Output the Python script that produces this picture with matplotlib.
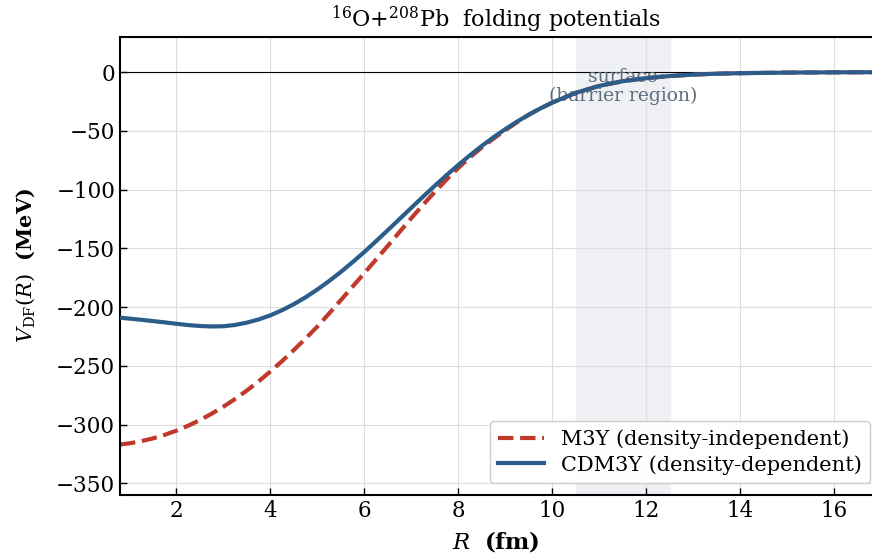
import numpy as np
import matplotlib
matplotlib.use("Agg")
import matplotlib.pyplot as plt

plt.rcParams['font.family'] = 'DejaVu Serif'
plt.rcParams['mathtext.fontset'] = 'dejavuserif'

# radius grid (fm)
R = [0.8, 1.0, 1.25, 1.5, 1.75, 2.0, 2.25, 2.5, 2.75, 3.0, 3.25, 3.5, 3.75,
     4.0, 4.25, 4.5, 4.75, 5.0, 5.25, 5.5, 5.75, 6.0, 6.25, 6.5, 6.75, 7.0,
     7.25, 7.5, 7.75, 8.0, 8.25, 8.5, 8.75, 9.0, 9.25, 9.5, 9.75, 10.0, 10.5,
     11.0, 11.5, 12.0, 12.5, 13.0, 13.5, 14.0, 15.0, 16.0, 16.8]
# CDM3Y (density-dependent), MeV
V_cdm3y = [-209.0, -209.8, -210.8, -211.9, -213.0, -214.2, -215.3, -216.1,
           -216.5, -216.3, -215.2, -213.2, -210.5, -207.0, -202.6, -197.5,
           -191.6, -185.0, -177.8, -170.0, -161.7, -153.0, -143.8, -134.4,
           -124.9, -115.4, -105.9, -96.6, -87.6, -78.9, -70.6, -62.7, -55.3,
           -48.4, -42.0, -36.1, -30.7, -25.8, -17.5, -11.6, -7.6, -5.0, -3.2,
           -2.0, -1.25, -0.8, -0.3, -0.1, 0.0]
# M3Y (density-independent), MeV
V_m3y = [-317.0, -316.0, -314.2, -311.8, -308.8, -305.2, -301.0, -296.2,
         -290.8, -284.8, -278.2, -271.0, -263.2, -254.8, -245.9, -236.5,
         -226.7, -216.5, -205.4, -194.0, -182.5, -171.0, -159.4, -147.7,
         -135.9, -124.2, -112.8, -101.8, -91.3, -81.4, -72.3, -64.0, -56.4,
         -49.3, -42.5, -36.1, -30.7, -25.8, -17.5, -11.6, -7.6, -5.0, -3.2,
         -2.0, -1.25, -0.8, -0.3, -0.1, 0.0]

fig = plt.figure(figsize=(8.72, 5.53), dpi=100)
ax = fig.add_axes([120 / 872, 58 / 553, 752 / 872, 458 / 553])

ax.axvspan(10.5, 12.5, color='#eef0f3', zorder=0)
ax.axhline(0, color='black', lw=0.8, zorder=1)
# label sits under the curves, as in the original
ax.text(11.5, -12, 'surface\n(barrier region)', ha='center', va='center',
        fontsize=13.5, color='#5d6d7e', linespacing=1.05, zorder=1.5)
ax.plot(R, V_m3y, ls='--', color='#c0392b', lw=3,
        label='M3Y (density-independent)', zorder=2)
ax.plot(R, V_cdm3y, color='#2c5d8a', lw=3, solid_joinstyle='round',
        label='CDM3Y (density-dependent)', zorder=3)

ax.set_xlim(0.8, 16.8)
ax.set_ylim(-360, 30)
ax.set_xticks([2, 4, 6, 8, 10, 12, 14, 16])
ax.set_yticks([0, -50, -100, -150, -200, -250, -300, -350])
ax.grid(True, color='#dddddd', lw=0.8, zorder=0)
ax.set_axisbelow(True)
ax.tick_params(direction='in', labelsize=15.5, length=5, width=1)
for s in ['left', 'bottom', 'top']:
    ax.spines[s].set_linewidth(1.5)
ax.spines['right'].set_visible(False)

ax.set_title(r'$^{16}$O+$^{208}$Pb  folding potentials', fontsize=16, pad=7)
ax.set_xlabel(r'$R$  $\mathbf{(fm)}$', fontsize=16.5, labelpad=5)
ax.set_ylabel(r'$V_{\mathrm{DF}}(R)$  $\mathbf{(MeV)}$', fontsize=15, labelpad=14)

ax.legend(loc='lower right', bbox_to_anchor=(0.997, 0.026), borderaxespad=0,
          fontsize=15, framealpha=0.95, handlelength=2.2, labelspacing=0.3)

fig.savefig('out.png', dpi=100)
